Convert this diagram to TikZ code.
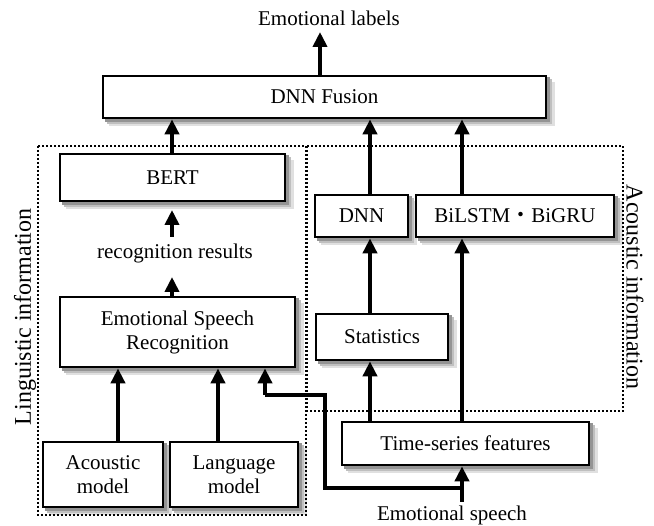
\documentclass[tikz,border=0pt]{standalone}
\usepackage{fontspec}
\setmainfont{Liberation Serif}
\newfontfamily\cjk{Noto Sans CJK JP}
\usetikzlibrary{arrows.meta,calc,backgrounds}
\newcommand\softshade[1]{%
  \fill[black!12] ($(#1.north west)+(7.5,7)$) rectangle ($(#1.south east)+(7.5,7)$);
  \fill[black!25] ($(#1.north west)+(5,4.5)$) rectangle ($(#1.south east)+(5,4.5)$);
  \fill[black!42] ($(#1.north west)+(3,2.5)$) rectangle ($(#1.south east)+(3,2.5)$);}
\begin{document}
\begin{tikzpicture}[x=1pt,y=-1pt,
  box/.style={draw,line width=2.7pt,fill=white,inner sep=0pt,
    font=\fontsize{21}{24}\selectfont,align=center},
  txt/.style={font=\fontsize{21}{24}\selectfont,inner sep=0pt},
  side/.style={font=\fontsize{24}{28}\selectfont,inner sep=0pt},
  arr/.style={line width=4pt,-{Triangle[length=15pt,width=14pt]}},
  wire/.style={line width=4pt},
  region/.style={draw,line width=2pt,dash pattern=on 2pt off 2pt}]
\useasboundingbox (0,0) rectangle (654,526);
% regions
\draw[region] (38,146) rectangle (306,515);
\draw[region] (307,146) rectangle (623,411);
\node[side,rotate=90] (ling) at (25,317) {Linguistic information};
\node[side,rotate=-90] (acou) at (635,287) {Acoustic information};
% nodes
\node[box,minimum width=443pt,minimum height=42pt] (fusion) at (324.5,97) {DNN Fusion};
\node[txt] (labels) at (329,18) {Emotional labels};
\node[box,minimum width=225pt,minimum height=47pt] (bert) at (172.5,177.5) {BERT};
\node[txt] (rr) at (175,253) {recognition results};
\node[box,minimum width=235pt,minimum height=70pt] (esr) at (177.5,332) {Emotional Speech\\Recognition};
\node[box,minimum width=120pt,minimum height=65pt] (am) at (103,474.5) {Acoustic\\model};
\node[box,minimum width=128pt,minimum height=65pt] (lm) at (234,474.5) {Language\\model};
\node[box,minimum width=93pt,minimum height=42pt] (dnn) at (361.5,216) {DNN};
\node[box,minimum width=198pt,minimum height=42pt] (bilstm) at (515,216) {BiLSTM{\cjk ・}BiGRU};
\node[box,minimum width=132pt,minimum height=46pt] (stats) at (382,337) {Statistics};
\node[box,minimum width=247pt,minimum height=43pt] (ts) at (465.5,443.5) {Time-series features};
\node[txt] (es) at (452,515) {Emotional speech};
\begin{scope}[on background layer]
\softshade{fusion}\softshade{bert}\softshade{esr}\softshade{am}\softshade{lm}
\softshade{dnn}\softshade{bilstm}\softshade{stats}\softshade{ts}
\end{scope}
% x positions
\coordinate (xl) at (320,0);
\coordinate (xb) at (172,0);
\coordinate (xam) at (118,0);
\coordinate (xlm) at (218,0);
\coordinate (xd) at (370,0);
\coordinate (xg) at (462,0);
\coordinate (xr) at (265,0);
\coordinate (sp0) at (462,502);
\coordinate (sp1) at (462,488);
\coordinate (sp2) at (325,488);
\coordinate (sp3) at (325,395);
\coordinate (sp4) at (265,395);
% arrows
\draw[arr] (xl |- fusion.north) -- (320,32);
\draw[arr] (xb |- bert.north) -- (xb |- fusion.south);
\draw[arr] (172,237) -- (172,210);
\draw[arr] (xb |- esr.north) -- (172,277);
\draw[arr] (xam |- am.north) -- (xam |- esr.south);
\draw[arr] (xlm |- lm.north) -- (xlm |- esr.south);
\draw[arr] (sp0) -- (xg |- ts.south);
\draw[wire] (sp1) -- (sp2) -- (sp3) -- (sp4) -- (xr |- sp4);
\draw[arr] (sp4) -- (xr |- esr.south);
\draw[arr] (xd |- ts.north) -- (xd |- stats.south);
\draw[arr] (xg |- ts.north) -- (xg |- bilstm.south);
\draw[arr] (xd |- stats.north) -- (xd |- dnn.south);
\draw[arr] (xd |- dnn.north) -- (xd |- fusion.south);
\draw[arr] (xg |- bilstm.north) -- (xg |- fusion.south);
\end{tikzpicture}
\end{document}
